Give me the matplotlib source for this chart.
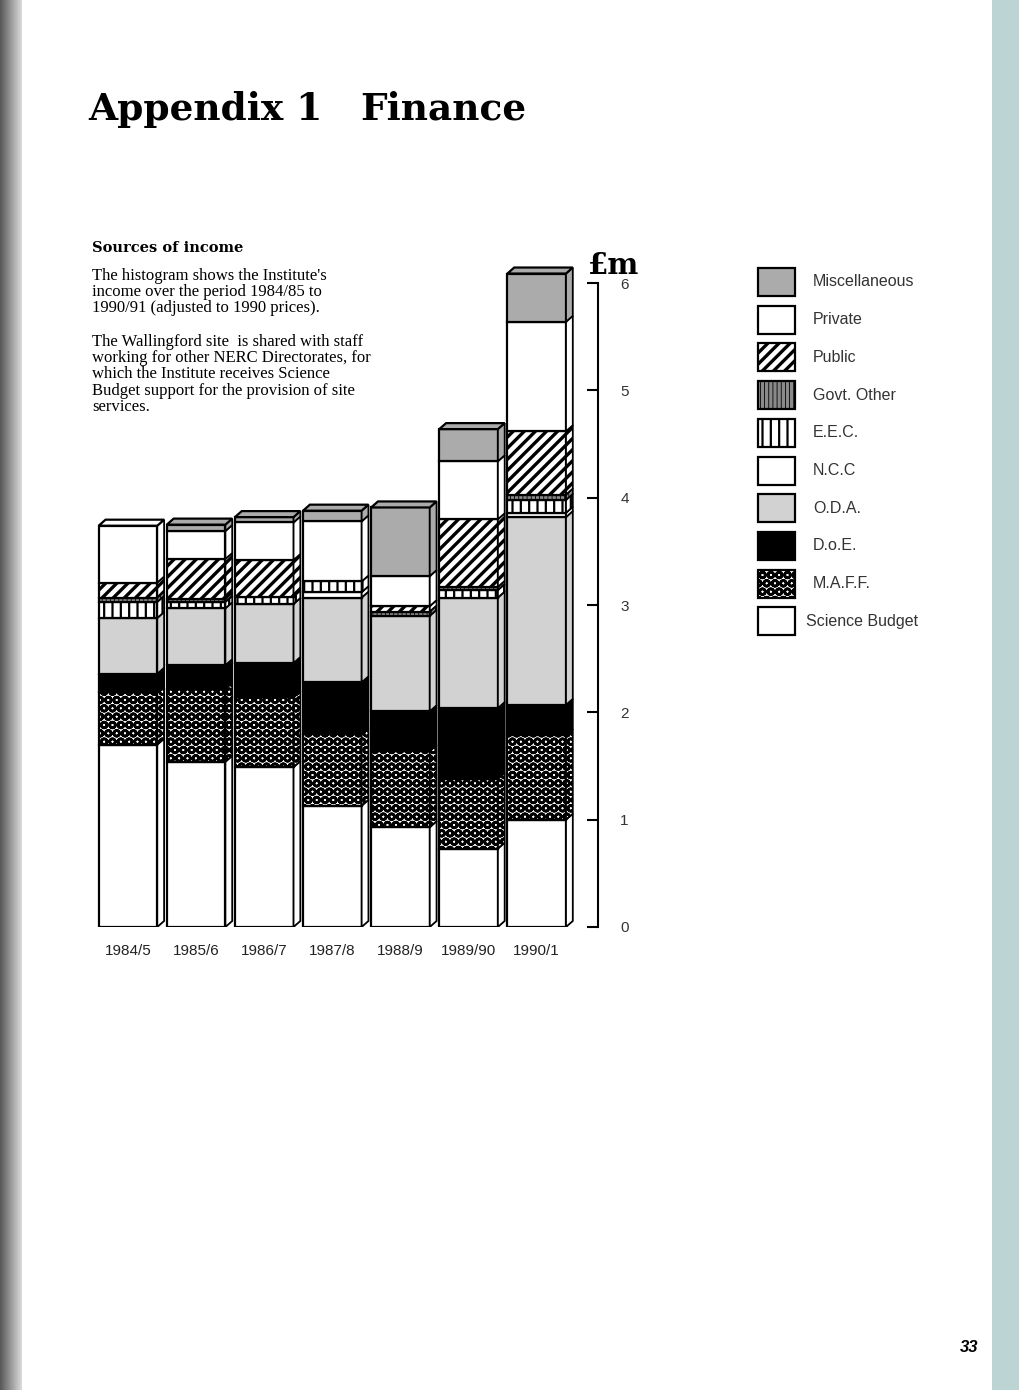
import numpy as np
import matplotlib
matplotlib.use("Agg")
import matplotlib.pyplot as plt
from matplotlib.patches import Rectangle

# ---- data (£m, 1990 prices), stacked bottom -> top ----
years = ["1984/5", "1985/6", "1986/7", "1987/8", "1988/9", "1989/90", "1990/1"]

science_budget = [1.70, 1.54, 1.49, 1.13, 0.93, 0.73, 1.00]
maff = [0.49, 0.68, 0.65, 0.67, 0.71, 0.65, 0.79]
doe = [0.17, 0.22, 0.32, 0.48, 0.37, 0.66, 0.28]
oda = [0.52, 0.53, 0.55, 0.79, 0.89, 1.03, 1.75]
ncc = [0.00, 0.00, 0.00, 0.05, 0.00, 0.00, 0.04]
eec = [0.15, 0.06, 0.07, 0.10, 0.00, 0.07, 0.12]
govt_other = [0.04, 0.03, 0.00, 0.00, 0.04, 0.03, 0.05]
public = [0.14, 0.37, 0.34, 0.00, 0.05, 0.63, 0.59]
private = [0.53, 0.26, 0.35, 0.56, 0.28, 0.54, 1.02]
misc = [0.00, 0.06, 0.05, 0.10, 0.64, 0.30, 0.45]

series_names = ["Science Budget", "M.A.F.F.", "D.o.E.", "O.D.A.", "N.C.C",
                "E.E.C.", "Govt. Other", "Public", "Private", "Miscellaneous"]
series_values = [science_budget, maff, doe, oda, ncc, eec, govt_other,
                 public, private, misc]

# fill style per series: (facecolor, hatch, hatch linewidth)
styles = {
    "Science Budget": ("white", None, 1.0),
    "M.A.F.F.": ("white", "OO", 1.9),
    "D.o.E.": ("black", None, 1.0),
    "O.D.A.": ("#d2d2d2", None, 1.0),
    "N.C.C": ("white", None, 1.0),
    "E.E.C.": ("white", "||", 1.6),
    "Govt. Other": ("#8a8a8a", "||||", 0.6),
    "Public": ("white", "///", 2.4),
    "Private": ("white", None, 1.0),
    "Miscellaneous": ("#ababab", None, 1.0),
}


def styled(patch, name):
    fc, hatch, hlw = styles[name]
    patch.set_facecolor(fc)
    patch.set_edgecolor("black")
    if hatch:
        patch.set_hatch(hatch)
        if hasattr(patch, "set_hatch_linewidth"):
            patch.set_hatch_linewidth(hlw)
    return patch


plt.rcParams["hatch.linewidth"] = 1.6

fig = plt.figure(figsize=(10.2, 13.9), dpi=100)
fig.patch.set_facecolor("white")

# page edges (scanned page look)
edge = fig.add_axes([0, 0, 22 / 1020, 1])
edge.imshow(np.linspace(0.35, 0.85, 22)[None, :], aspect="auto", cmap="gray",
            vmin=0, vmax=1, extent=(0, 1, 0, 1))
edge.axis("off")
fig.add_artist(Rectangle((992 / 1020, 0), 28 / 1020, 1, transform=fig.transFigure,
                         facecolor="#bcd4d4", edgecolor="none"))

# ---- chart ----
ax = fig.add_axes([90 / 1020, 463 / 1390, 508 / 1020, 676 / 1390])
x = np.arange(len(years))
width = 0.86
dx, dy = 0.10, 0.056

bottom = np.zeros(len(years))
for name, vals in zip(series_names, series_values):
    vals = np.array(vals)
    bars = ax.bar(x, vals, width, bottom=bottom, linewidth=1.6)
    for i, b in enumerate(bars):
        styled(b, name)
        if vals[i] <= 0:
            b.set_visible(False)
            continue
        xr = x[i] + width / 2
        lo, hi = bottom[i], bottom[i] + vals[i]
        side = ax.fill([xr, xr + dx, xr + dx, xr], [lo, lo + dy, hi + dy, hi],
                       linewidth=1.3)[0]
        styled(side, name)
    bottom += vals

# top faces, coloured by the top segment
for i in range(len(years)):
    top_name = [n for n, v in zip(series_names, series_values) if v[i] > 0][-1]
    xl, xr = x[i] - width / 2, x[i] + width / 2
    T = bottom[i]
    face = ax.fill([xl, xr, xr + dx, xl + dx], [T, T, T + dy, T + dy],
                   linewidth=1.6)[0]
    styled(face, top_name)

ax.set_xlim(-0.558, 6.90)
ax.set_ylim(0, 6.3)
for s in ["left", "top", "bottom"]:
    ax.spines[s].set_visible(False)
ax.spines["right"].set_bounds(0, 6)
ax.spines["right"].set_linewidth(1.5)
ax.yaxis.set_ticks_position("right")
ax.set_yticks(range(7))
ax.tick_params(axis="y", direction="in", length=8, width=1.5, pad=16,
               labelsize=11, labelcolor="#333333")
ax.set_xticks(x, years)
ax.tick_params(axis="x", length=0, pad=12, labelsize=11, labelcolor="#222222")
for lab in ax.get_xticklabels() + ax.get_yticklabels():
    lab.set_family("Liberation Sans")
ax.set_facecolor("none")

# ---- texts ----
fig.text(88 / 1020, 1 - 120 / 1390, "Appendix 1", fontsize=27, weight="bold",
         family="DejaVu Serif")
fig.text(360 / 1020, 1 - 120 / 1390, "Finance", fontsize=27, weight="bold",
         family="DejaVu Serif")
fig.text(588 / 1020, 1 - 274 / 1390, "£m", fontsize=21, weight="bold",
         family="DejaVu Serif")
fig.text(92 / 1020, 1 - 252 / 1390, "Sources of income", fontsize=10.5,
         weight="bold", family="DejaVu Serif")
fig.text(92 / 1020, 1 - 268 / 1390,
         "The histogram shows the Institute's\n"
         "income over the period 1984/85 to\n"
         "1990/91 (adjusted to 1990 prices).",
         fontsize=12, family="Liberation Serif", va="top", linespacing=1.02)
fig.text(92 / 1020, 1 - 334 / 1390,
         "The Wallingford site  is shared with staff\n"
         "working for other NERC Directorates, for\n"
         "which the Institute receives Science\n"
         "Budget support for the provision of site\n"
         "services.",
         fontsize=12, family="Liberation Serif", va="top", linespacing=1.02)

# ---- legend (top entry = Miscellaneous) ----
for k, name in enumerate(series_names[::-1]):
    yc = 282 + 37.7 * k
    r = Rectangle((758 / 1020, 1 - (yc + 14) / 1390), 37 / 1020, 28 / 1390,
                  transform=fig.transFigure, linewidth=1.6)
    styled(r, name)
    fig.add_artist(r)
    tx = 806 if name == "Science Budget" else 813
    fig.text(tx / 1020, 1 - yc / 1390, name, fontsize=11.5, va="center",
             family="Liberation Sans", color="#333333")

fig.text(960 / 1020, 1 - 1352 / 1390, "33", fontsize=12, weight="bold",
         style="italic", family="Liberation Sans")

fig.savefig("out.png", dpi=100)
